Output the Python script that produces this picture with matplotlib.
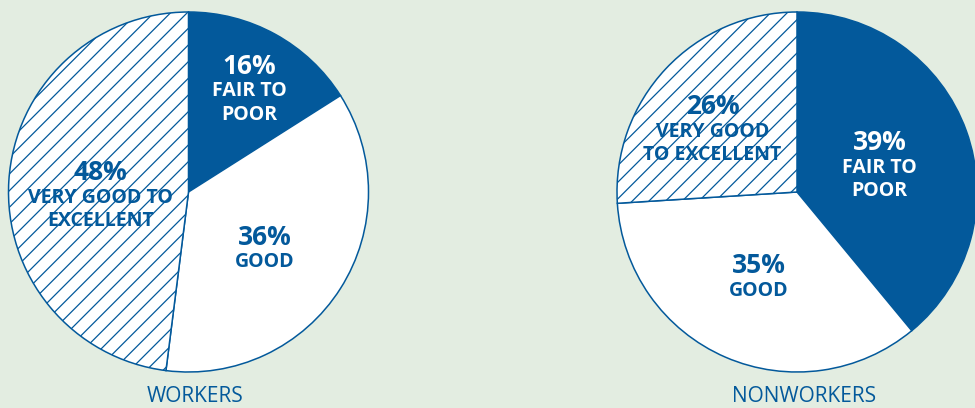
import matplotlib
matplotlib.use('Agg')
import numpy as np
import matplotlib.pyplot as plt

# 数据（百分比，从12点方向顺时针）
categories = ['FAIR TO\nPOOR', 'GOOD', 'VERY GOOD TO\nEXCELLENT']
workers = [16, 36, 48]
nonworkers = [39, 35, 26]
nonworker_labels = ['FAIR TO\nPOOR', 'GOOD', 'VERY GOOD\nTO EXCELLENT']
group_titles = ['WORKERS', 'NONWORKERS']

BLUE = '#03599b'
BG = '#e3ede1'

plt.rcParams['font.family'] = ['Open Sans', 'DejaVu Sans']
plt.rcParams['hatch.linewidth'] = 0.9

fig = plt.figure(figsize=(9.75, 4.08), dpi=100, facecolor=BG)
ax = fig.add_axes([0, 0, 1, 1])
ax.set_facecolor(BG)

R = 180
centers = [(188.5, 216), (797, 216)]
# 标签位置（角度, 半径比例），布局用
label_pos = [
    [(59, 0.66), (-37, 0.53), (183, 0.49)],
    [(17, 0.48), (-114, 0.52), (144, 0.58)],
]


def draw_pie(values, labels, center, positions, title):
    fills = [BLUE, 'white', 'white']
    hatches = [None, None, '//']
    wedges, _ = ax.pie(values, startangle=90, counterclock=False,
                       radius=R, center=center, colors=fills,
                       wedgeprops=dict(edgecolor=BLUE, linewidth=1.1),
                       frame=True)
    for w, h in zip(wedges, hatches):
        if h:
            w.set_hatch(h)
    for i, (v, lab) in enumerate(zip(values, labels)):
        ang, d = positions[i]
        bx = center[0] + R * d * np.cos(np.radians(ang))
        by = center[1] + R * d * np.sin(np.radians(ang))
        n = lab.count('\n') + 1
        tc = 'white' if i == 0 else BLUE
        ax.text(bx, by + 12 * n, f'{v}%', ha='center', va='center',
                fontsize=19, fontweight='bold', color=tc)
        ax.text(bx, by + 12 * n - 15, lab, ha='center', va='top',
                fontsize=14, fontweight='bold', color=tc, linespacing=1.25)
    ax.text(center[0] + 7, 11, title, ha='center', va='center',
            fontsize=15, color=BLUE)


draw_pie(workers, categories, centers[0], label_pos[0], group_titles[0])
draw_pie(nonworkers, nonworker_labels, centers[1], label_pos[1], group_titles[1])

ax.set_xlim(0, 975)
ax.set_ylim(0, 408)
ax.set_aspect('equal')
ax.axis('off')

fig.savefig('out.png', dpi=100, facecolor=BG)
